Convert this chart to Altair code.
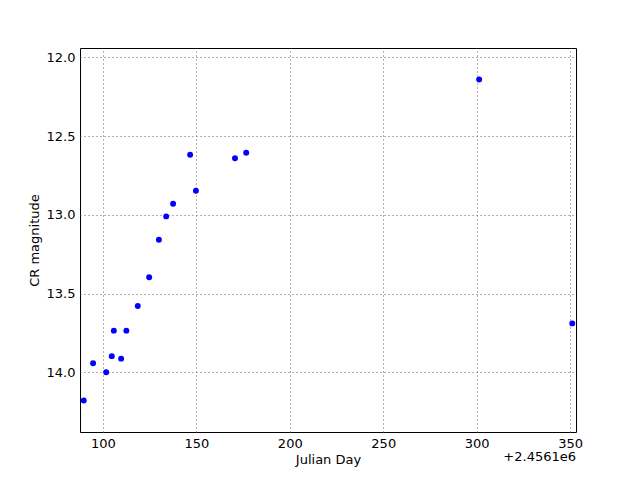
import altair as alt
import pandas as pd

# Julian Day offsets (+2.4561e6) and CR magnitudes
jd = [89.8, 94.8, 101.8, 104.8, 105.9, 109.8, 112.6, 118.7, 124.8, 130.0,
      133.9, 137.6, 146.7, 149.8, 170.7, 176.7, 301.3, 351.1]
mag = [14.18, 13.943, 14.0, 13.898, 13.736, 13.914, 13.736, 13.579, 13.397, 13.158,
       13.010, 12.930, 12.618, 12.847, 12.641, 12.606, 12.140, 13.690]
x_ticks = [100, 150, 200, 250, 300, 350]
y_ticks = [12.0, 12.5, 13.0, 13.5, 14.0]
offset_label = "+2.4561e6"

df = pd.DataFrame({"jd": jd, "mag": mag})

FONT = "DejaVu Sans"

points = alt.Chart(df).mark_circle(size=35, color="#0000ff", opacity=1).encode(
    x=alt.X("jd:Q", title="Julian Day",
            scale=alt.Scale(domain=[87.8, 353.1], nice=False, zero=False),
            axis=alt.Axis(values=x_ticks, format="d", grid=True, ticks=False,
                          domain=False, labelPadding=5, titlePadding=3,
                          gridDash=[1, 3], gridColor="#666", gridWidth=1)),
    y=alt.Y("mag:Q", title="CR magnitude",
            scale=alt.Scale(domain=[11.94, 14.38], nice=False, zero=False, reverse=True),
            axis=alt.Axis(values=y_ticks, format=".1f", grid=True, ticks=False,
                          domain=False, labelPadding=5, titlePadding=5,
                          gridDash=[1, 3], gridColor="#666", gridWidth=1)),
)

offset = alt.Chart(pd.DataFrame({"t": [offset_label]})).mark_text(
    align="right", baseline="top", font=FONT, fontSize=13, color="black"
).encode(x=alt.value(496), y=alt.value(403), text="t:N")

chart = (points + offset).properties(
    width=496, height=384,
    autosize=alt.AutoSizeParams(type="none"),
    padding={"left": 72, "top": 40, "right": 56, "bottom": 40},
    background="white",
).configure_view(
    stroke="black", strokeWidth=1
).configure_axis(
    labelFont=FONT, titleFont=FONT, labelFontSize=13, titleFontSize=13,
    labelColor="black", titleColor="black", titleFontWeight="normal",
)

chart.save("out.html", embed_options={"renderer": "svg", "actions": False})
